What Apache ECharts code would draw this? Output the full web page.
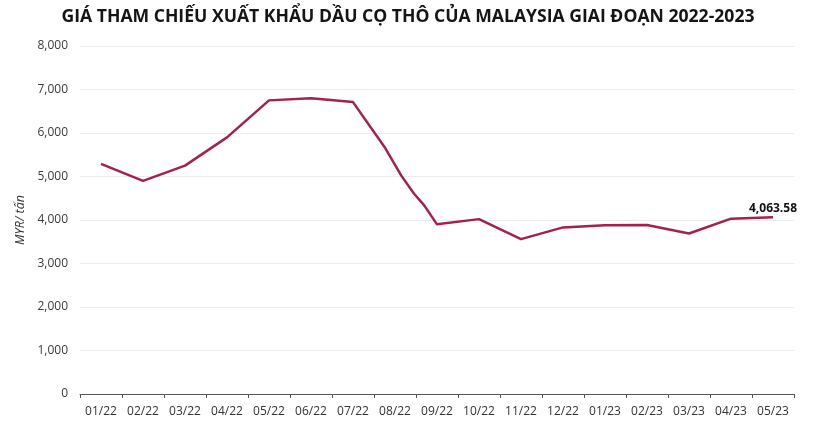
<!DOCTYPE html>
<html>
<head>
<meta charset="utf-8">
<script src="https://cdn.jsdelivr.net/npm/echarts@6/dist/echarts.min.js"></script>
<style>
html,body{margin:0;padding:0;background:#fff;}
#c{width:816px;height:424px;}
</style>
</head>
<body>
<div id="c"></div>
<script>
const categories = ['01/22','02/22','03/22','04/22','05/22','06/22','07/22','08/22','09/22','10/22','11/22','12/22','01/23','02/23','03/23','04/23','05/23'];
// time position in months (0 = start of 01/22), value in MYR/tấn
const positions = [0.5,1.5,2.5,3.5,4.5,5.5,6.5,7.25,7.65,7.95,8.2,8.5,9.5,10.5,11.5,12.5,13.5,14.5,15.5,16.5];
const values =    [5290,4900,5250,5900,6750,6800,6710,5680,5020,4610,4330,3900,4020,3560,3830,3880,3885,3690,4030,4063.58];
const yTicks = {min:0, max:8000, interval:1000};
const titleText = 'GIÁ THAM CHIẾU XUẤT KHẨU DẦU CỌ THÔ CỦA MALAYSIA GIAI ĐOẠN 2022-2023';
const yName = 'MYR/ tấn';

const data = positions.map((p,i)=>{
  const isLast = i === positions.length-1;
  return isLast ? {value:[p, values[i]], label:{show:true, position:'top', distance:3,
    formatter: v => v.value[1].toLocaleString('en-US',{minimumFractionDigits:2, maximumFractionDigits:2}),
    fontFamily:'Open Sans', fontWeight:'bold', fontSize:12, color:'#111'}} : [p, values[i]];
});

const chart = echarts.init(document.getElementById('c'));
chart.setOption({
  animation:false,
  title:{text:titleText, left:'center', top:3,
    textStyle:{fontFamily:'Open Sans', fontWeight:'bold', fontSize:17.6, color:'#151515'}},
  grid:{left:80, right:22, top:46, bottom:30},
  xAxis:[{
    type:'category', data:categories, boundaryGap:true,
    axisLine:{lineStyle:{color:'#555', width:1}},
    axisTick:{show:true, length:4, lineStyle:{color:'#555'}},
    axisLabel:{fontFamily:'Open Sans', fontSize:12, color:'#333', margin:12},
    splitLine:{show:false}
  },{
    type:'value', min:0, max:categories.length, show:false
  }],
  yAxis:{
    type:'value', min:yTicks.min, max:yTicks.max, interval:yTicks.interval,
    name:yName, nameLocation:'middle', nameGap:45, nameRotate:90,
    nameTextStyle:{fontFamily:'Open Sans', fontStyle:'italic', fontSize:12.5, color:'#333'},
    axisLine:{show:false}, axisTick:{show:false},
    axisLabel:{fontFamily:'Open Sans', fontSize:12, color:'#3a3a3a', margin:12,
      formatter: v => v.toLocaleString('en-US')},
    splitLine:{lineStyle:{color:'#ececec', width:1}}
  },
  series:[{
    type:'line', xAxisIndex:1, data:data,
    symbol:'circle', symbolSize:0, showSymbol:true, smooth:false,
    lineStyle:{color:'#a3224b', width:2.5},
    itemStyle:{color:'#a3224b'}
  }]
});
</script>
</body>
</html>
